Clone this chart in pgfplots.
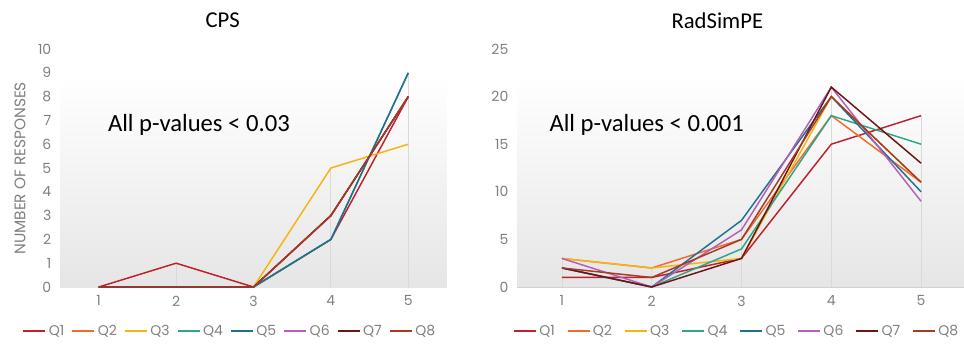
\documentclass[border=0pt]{standalone}
\usepackage{pgfplots}
\pgfplotsset{compat=1.18}
\usepackage{fontspec}
\setmainfont{Carlito}
\newfontfamily\tickfont{Poppins}
\definecolor{qa}{HTML}{C0202A}
\definecolor{qb}{HTML}{F26B2D}
\definecolor{qc}{HTML}{F6B40E}
\definecolor{qd}{HTML}{2FA58A}
\definecolor{qe}{HTML}{21708F}
\definecolor{qf}{HTML}{B55FB8}
\definecolor{qg}{HTML}{6E1414}
\definecolor{qh}{HTML}{A63A22}
\definecolor{tk}{HTML}{7F7F7F}
\begin{document}
\begin{tikzpicture}
\useasboundingbox (0pt,0pt) rectangle (723pt,257.25pt);
\pgfplotsset{
  common/.style={
    scale only axis, height=178.5pt,
    xmin=0.5, xmax=5.5, ymin=0,
    xtick={1,2,3,4,5},
    axis line style={draw=none},
    major tick length=0pt,
    /pgf/number format/assume math mode=true,
    tick label style={font=\tickfont\fontsize{10.5}{12}\selectfont, text=tk},
    yticklabel style={xshift=-3pt},
    xticklabel style={yshift=-3pt},
    extra y ticks={0}, extra y tick labels={},
    extra y tick style={grid=major, major grid style={black!18, line width=0.8pt}},
    legend columns=8,
    legend style={draw=none, fill=none, font=\tickfont\fontsize{10.5}{12}\selectfont, text=tk},
    legend image code/.code={\draw[#1] (0pt,0pt) -- (16.5pt,0pt);},
    every axis plot/.append style={line width=1.1pt},
    clip=false,
  }
}
% ---------------- CPS ----------------
\begin{axis}[common, at={(45pt,42pt)}, anchor=south west, width=290.25pt,
  ymax=10, ytick={0,1,...,10},
  legend style={at={(0.44,-0.185)}, anchor=center,
    /tikz/every even column/.append style={column sep=3.5pt}}]
\fill[bottom color=black!10, top color=white, draw=none] (axis cs:0.5,0) rectangle (axis cs:5.5,8.8);
\addplot[ycomb, black!15, line width=0.6pt, forget plot] coordinates {(1,0) (2,1) (3,0) (4,5) (5,9)};
\addplot[qa] coordinates {(1,0) (2,1) (3,0) (4,2) (5,8)};
\addlegendentry{Q1}
\addplot[qb] coordinates {(1,0) (2,0) (3,0) (4,3) (5,8)};
\addlegendentry{Q2}
\addplot[qc] coordinates {(1,0) (2,0) (3,0) (4,5) (5,6)};
\addlegendentry{Q3}
\addplot[qd] coordinates {(1,0) (2,0) (3,0) (4,2) (5,9)};
\addlegendentry{Q4}
\addplot[qe] coordinates {(1,0) (2,0) (3,0) (4,2) (5,9)};
\addlegendentry{Q5}
\addplot[qf] coordinates {(1,0) (2,0) (3,0) (4,3) (5,8)};
\addlegendentry{Q6}
\addplot[qg] coordinates {(1,0) (2,0) (3,0) (4,3) (5,8)};
\addlegendentry{Q7}
\addplot[qh] coordinates {(1,0) (2,0) (3,0) (4,3) (5,8)};
\addlegendentry{Q8}
\node[anchor=west, font=\fontsize{18.5}{20}\selectfont] at (axis cs:1.06,6.8) {All p-values < 0.03};
\end{axis}
% ---------------- RadSimPE ----------------
\begin{axis}[common, at={(387.75pt,42pt)}, anchor=south west, width=336.75pt,
  ymax=25, ytick={0,5,...,25},
  legend style={at={(0.49,-0.185)}, anchor=center,
    /tikz/every even column/.append style={column sep=7pt}}]
\fill[bottom color=black!10, top color=white, draw=none] (axis cs:0.5,0) rectangle (axis cs:5.5,22);
\addplot[ycomb, black!15, line width=0.6pt, forget plot] coordinates {(1,3) (2,2) (3,7) (4,21) (5,18)};
\addplot[qa] coordinates {(1,1) (2,1) (3,3) (4,15) (5,18)};
\addlegendentry{Q1}
\addplot[qb] coordinates {(1,3) (2,2) (3,5) (4,18) (5,11)};
\addlegendentry{Q2}
\addplot[qc] coordinates {(1,3) (2,2) (3,3) (4,20) (5,11)};
\addlegendentry{Q3}
\addplot[qd] coordinates {(1,2) (2,0) (3,4) (4,18) (5,15)};
\addlegendentry{Q4}
\addplot[qe] coordinates {(1,2) (2,0) (3,7) (4,20) (5,10)};
\addlegendentry{Q5}
\addplot[qf] coordinates {(1,3) (2,0) (3,6) (4,21) (5,9)};
\addlegendentry{Q6}
\addplot[qg] coordinates {(1,2) (2,0) (3,3) (4,21) (5,13)};
\addlegendentry{Q7}
\addplot[qh] coordinates {(1,2) (2,1) (3,5) (4,20) (5,11)};
\addlegendentry{Q8}
\node[anchor=west, font=\fontsize{18.5}{20}\selectfont] at (axis cs:0.81,17) {All p-values < 0.001};
\end{axis}
\node[font=\fontsize{17}{20}\selectfont] at (167pt,242pt) {CPS};
\node[font=\fontsize{17}{20}\selectfont] at (538pt,242pt) {RadSimPE};
\node[rotate=90, font=\tickfont\fontsize{11.5}{12}\selectfont, text=tk] at (15pt,131pt) {NUMBER OF RESPONSES};
\end{tikzpicture}
\end{document}
